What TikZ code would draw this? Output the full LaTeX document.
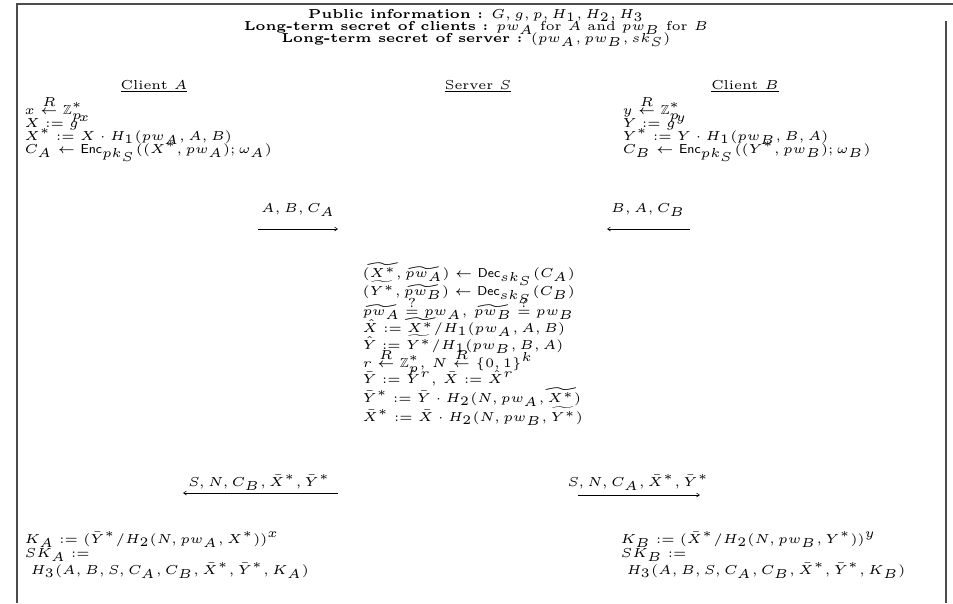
\documentclass[tikz,border=0pt]{standalone}
\usepackage{amssymb}
\usetikzlibrary{arrows.meta}
\newcommand{\Enc}{\mathsf{Enc}}
\newcommand{\Dec}{\mathsf{Dec}}
\newcommand{\rnd}{\stackrel{R}{\leftarrow}}
\begin{document}
\begin{tikzpicture}[x=1pt,y=-1pt,
  txt/.style={scale=2.6, anchor=base west, inner sep=0pt, font=\tiny},
  ctr/.style={scale=2.6, anchor=base, inner sep=0pt, font=\tiny},
  msgarrow/.style={-{Straight Barb[length=3pt,width=4pt]}, line width=0.6pt},
  framebar/.style={line width=1.3pt, draw=black!70}]
\useasboundingbox (0,0) rectangle (953,603);
% frame
\draw[framebar] (17,603) -- (17,4) -- (953,4);
\draw[framebar] (946,21) -- (946,603);
% header
\node[ctr] (h1) at (476,18) {\textbf{Public information :} $G, g, p, H_1, H_2, H_3$};
\node[ctr] (h2) at (476,30) {\textbf{Long-term secret of clients :} $pw_A$ for $A$ and $pw_B$ for $B$};
\node[ctr] (h3) at (476,42) {\textbf{Long-term secret of server :} $(pw_A, pw_B, sk_S)$};
% parties
\node[ctr] (pa) at (154,89) {\underline{Client $A$}};
\node[ctr] (ps) at (478,89) {\underline{Server $S$}};
\node[ctr] (pb) at (745,89) {\underline{Client $B$}};
% client A
\node[txt] (a1) at (24,114) {$x \rnd \mathbb{Z}_p^*$};
\node[txt] (a2) at (24,127) {$X := g^x$};
\node[txt] (a3) at (24,140) {$X^* := X \cdot H_1(pw_A, A, B)$};
\node[txt] (a4) at (24,153) {$C_A \leftarrow \Enc_{pk_S}((X^*, pw_A); \omega_A)$};
% client B
\node[txt] (b1) at (622,114) {$y \rnd \mathbb{Z}_p^*$};
\node[txt] (b2) at (622,127) {$Y := g^y$};
\node[txt] (b3) at (622,140) {$Y^* := Y \cdot H_1(pw_B, B, A)$};
\node[txt] (b4) at (622,153) {$C_B \leftarrow \Enc_{pk_S}((Y^*, pw_B); \omega_B)$};
% messages 1
\coordinate (m1s) at (258,229);
\coordinate (m1e) at (338,229);
\draw[msgarrow] (m1s) -- (m1e);
\node[ctr] (l1) at (298,212) {$A, B, C_A$};
\coordinate (m2s) at (690,229);
\coordinate (m2e) at (607,229);
\draw[msgarrow] (m2s) -- (m2e);
\node[ctr] (l2) at (648,212) {$B, A, C_B$};
% server
\node[txt] (s1) at (362,277) {$(\widetilde{X^*}, \widetilde{pw_A}) \leftarrow \Dec_{sk_S}(C_A)$};
\node[txt] (s2) at (362,295) {$(\widetilde{Y^*}, \widetilde{pw_B}) \leftarrow \Dec_{sk_S}(C_B)$};
\node[txt] (s3) at (362,315) {$\widetilde{pw_A} \stackrel{?}{=} pw_A,\, \widetilde{pw_B} \stackrel{?}{=} pw_B$};
\node[txt] (s4) at (362,332) {$\hat{X} := \widetilde{X^*}/H_1(pw_A, A, B)$};
\node[txt] (s5) at (362,349) {$\hat{Y} := \widetilde{Y^*}/H_1(pw_B, B, A)$};
\node[txt] (s6) at (362,367) {$r \rnd \mathbb{Z}_p^*,\, N \rnd \{0,1\}^k$};
\node[txt] (s7) at (362,383) {$\bar{Y} := \hat{Y}^r,\, \bar{X} := \hat{X}^r$};
\node[txt] (s8) at (362,402) {$\bar{Y}^* := \bar{Y} \cdot H_2(N, pw_A, \widetilde{X^*})$};
\node[txt] (s9) at (362,421) {$\bar{X}^* := \bar{X} \cdot H_2(N, pw_B, \widetilde{Y^*})$};
% messages 2
\coordinate (m3s) at (338,493);
\coordinate (m3e) at (183,493);
\draw[msgarrow] (m3s) -- (m3e);
\node[ctr] (l3) at (259,486) {$S, N, C_B, \bar{X}^*, \bar{Y}^*$};
\coordinate (m4s) at (578,495);
\coordinate (m4e) at (700,495);
\draw[msgarrow] (m4s) -- (m4e);
\node[ctr] (l4) at (638,486) {$S, N, C_A, \bar{X}^*, \bar{Y}^*$};
% final A
\node[txt] (fa1) at (24,543) {$K_A := (\bar{Y}^*/H_2(N, pw_A, X^*))^x$};
\node[txt] (fa2) at (24,557) {$SK_A :=$};
\node[txt] (fa3) at (30,574) {$H_3(A, B, S, C_A, C_B, \bar{X}^*, \bar{Y}^*, K_A)$};
% final B
\node[txt] (fb1) at (620,543) {$K_B := (\bar{X}^*/H_2(N, pw_B, Y^*))^y$};
\node[txt] (fb2) at (620,557) {$SK_B :=$};
\node[txt] (fb3) at (626,574) {$H_3(A, B, S, C_A, C_B, \bar{X}^*, \bar{Y}^*, K_B)$};
\end{tikzpicture}
\end{document}
